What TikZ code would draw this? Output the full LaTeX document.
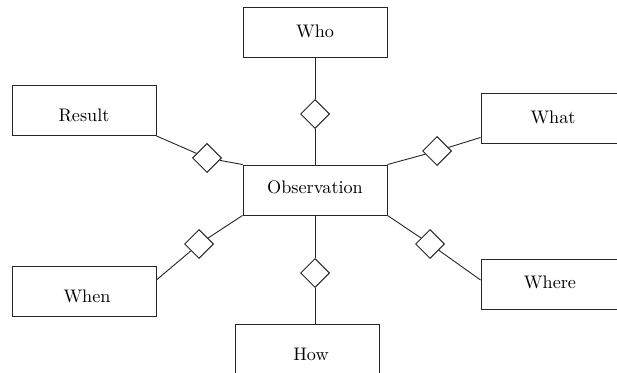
\documentclass[tikz,border=0pt]{standalone}
\usetikzlibrary{shapes.geometric,calc}
\begin{document}
\begin{tikzpicture}[x=0.55pt,y=-0.55pt,
  entity/.style={draw=black!85,line width=0.5pt,rectangle,inner sep=0pt,
    minimum width=79.2pt,minimum height=27.5pt},
  caption/.style={inner sep=0pt,font=\normalsize},
  joint/.style={draw=black!85,line width=0.5pt,diamond,aspect=1,inner sep=0pt,
    minimum width=16pt,minimum height=16pt,fill=white},
  link/.style={draw=black!85,line width=0.5pt}]
\useasboundingbox (0,0) rectangle (617,373);
\clip (0,0) rectangle (617,373);

% boxes
\node[entity] (obs)   at (315,190)   {};
\node[entity] (who)   at (315,32)    {};
\node[entity] (res)   at (84,110.5)  {};
\node[entity] (what)  at (553,118)   {};
\node[entity] (when)  at (84,291.5)  {};
\node[entity] (where) at (553,284)   {};
\node[entity] (how)   at (307.5,349) {};

% captions
\node[caption] (obs-t)   at (315,187) {Observation};
\node[caption] (who-t)   at (315,31)  {Who};
\node[caption] (res-t)   at (84,115)  {Result};
\node[caption] (what-t)  at (553,117) {What};
\node[caption] (when-t)  at (87,296)  {When};
\node[caption] (where-t) at (550,282) {Where};
\node[caption] (how-t)   at (311,354) {How};

% diamonds
\node[joint] (dwho)   at (315,114) {};
\node[joint] (dres)   at (207,158) {};
\node[joint] (dwhat)  at (437,151) {};
\node[joint] (dwhen)  at (199,244) {};
\node[joint] (dwhere) at (430,244) {};
\node[joint] (dhow)   at (315,273) {};

% connectors
\draw[link] (who.south) -- (dwho);
\draw[link] (dwho) -- (obs.north);
\draw[link] (res.south east) -- (dres);
\draw[link] (dres) -- (obs.north west);
\draw[link] ($(what.south west)+(0,-6)$) -- (dwhat);
\draw[link] (dwhat) -- (obs.north east);
\draw[link] ($(when.east)+(0,-11.5)$) -- (dwhen);
\draw[link] (dwhen) -- (obs.south west);
\draw[link] ($(where.west)+(0,-4)$) -- (dwhere);
\draw[link] (dwhere) -- (obs.south east);
\draw[link] (obs.south) -- (dhow);
\draw[link] (dhow) -- (how.north -| obs.south);
\end{tikzpicture}
\end{document}
